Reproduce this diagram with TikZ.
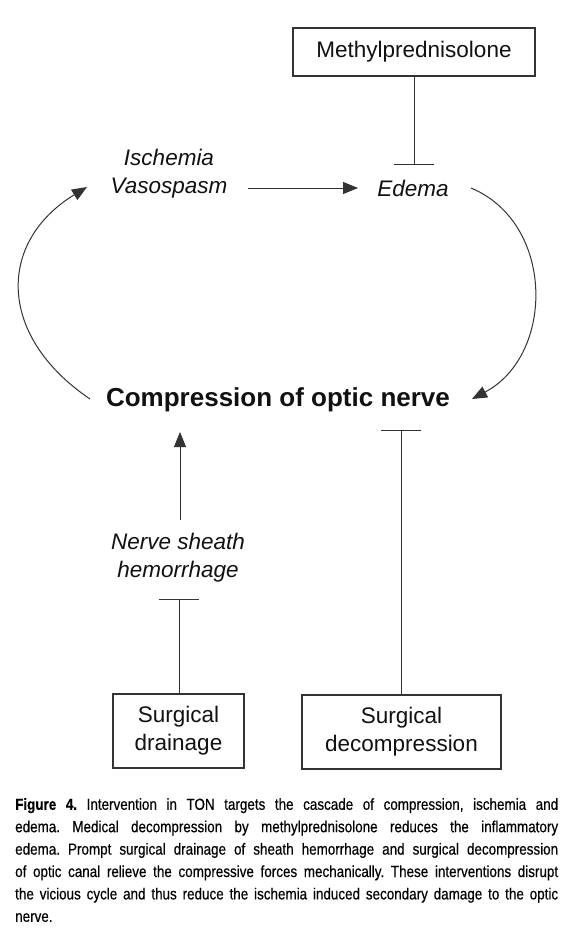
\documentclass[tikz,border=0pt]{standalone}
\usepackage{fontspec}
\setmainfont{Liberation Sans}
\newfontfamily\capfont[FakeStretch=0.84,FakeBold=0.4]{Liberation Sans}
\usetikzlibrary{arrows.meta}
\definecolor{linec}{HTML}{333333}
\definecolor{txtc}{HTML}{111111}
\begin{document}
\begin{tikzpicture}[x=1pt,y=-1pt,
  lbl/.style={inner sep=0pt, text=txtc, font=\fontsize{22.5}{28}\selectfont},
  itl/.style={lbl, font=\fontsize{22.5}{28}\selectfont\itshape, align=center},
  boldlbl/.style={inner sep=0pt, text=txtc, font=\fontsize{26}{30}\selectfont\bfseries},
  boxnode/.style={lbl, draw=linec, line width=1.3pt, align=center},
  conn/.style={draw=linec, line width=1pt},
  arr/.style={conn, -{Triangle[length=15pt,width=12pt]}},
  inhib/.style={conn, -{Bar[width=40pt,line width=1.3pt]}}
]
\useasboundingbox (0,0) rectangle (575,931);
\fill[white] (0,0) rectangle (575,931);

% nodes
\node[boxnode, minimum width=242pt, minimum height=48pt] (methyl) at (414,52) {Methylprednisolone};
\node[itl] (isch) at (169,174) {Ischemia\\Vasospasm};
\node[itl] (edema) at (413,188) {Edema};
\node[boldlbl] (comp) at (278,400) {Compression of optic nerve};
\node[itl] (nerve) at (178,558) {Nerve sheath\\hemorrhage};
\node[boxnode, minimum width=131pt, minimum height=74pt] (drain) at (178.5,731) {Surgical\\drainage};
\node[boxnode, minimum width=199pt, minimum height=74pt] (decomp) at (401.5,732) {Surgical\\decompression};

% connector end points
\coordinate (t1) at (414,165);
\coordinate (t2) at (401,430);
\coordinate (t3) at (179,599);
\coordinate (h1) at (248,188);
\coordinate (h2) at (358,188);
\coordinate (u1) at (180,520);
\coordinate (u2) at (180,432);
\coordinate (l1) at (90,399);
\coordinate (l2) at (87,187);
\coordinate (r1) at (471,188);
\coordinate (r2) at (472,399);

% connectors
\draw[inhib] (methyl.south) -- (t1);
\draw[inhib] (decomp.north -| t2) -- (t2);
\draw[inhib] (drain.north -| t3) -- (t3);
\draw[arr] (h1) -- (h2);
\draw[arr] (u1) -- (u2);
\draw[arr] (l1) .. controls (-3,336) and (-3,242) .. (l2);
\draw[arr] (r1) .. controls (555,223) and (555,355) .. (r2);

% caption
\node[anchor=north west, inner sep=0pt, text width=543pt, align=justify, text=black,
      font=\capfont\fontsize{16}{22.4}\selectfont\frenchspacing] (caption) at (15,798)
{\textbf{Figure 4.} Intervention in TON targets the cascade of compression, ischemia and\linebreak
edema. Medical decompression by methylprednisolone reduces the inflammatory\linebreak
edema. Prompt surgical drainage of sheath hemorrhage and surgical decompression\linebreak
of optic canal relieve the compressive forces mechanically. These interventions disrupt\linebreak
the vicious cycle and thus reduce the ischemia induced secondary damage to the optic\linebreak
nerve.};
\end{tikzpicture}
\end{document}
